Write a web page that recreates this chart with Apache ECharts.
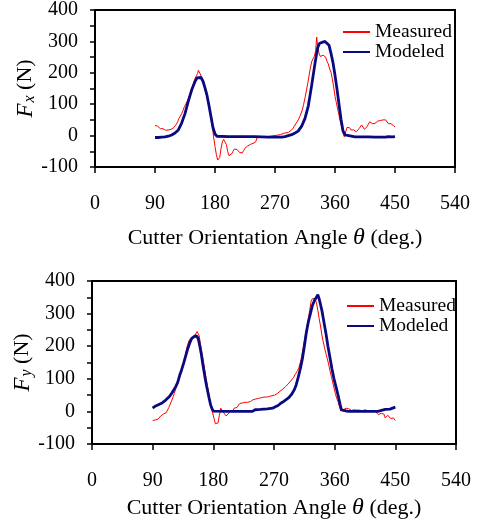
<!DOCTYPE html>
<html><head><meta charset="utf-8">
<script src="https://cdn.jsdelivr.net/npm/echarts@6/dist/echarts.min.js"></script>
<style>html,body{margin:0;padding:0;background:#fff}#c{width:482px;height:522px}</style>
</head><body><div id="c"></div>
<script>
// ---- data (angle in deg, force in N) ----
const xTickValues = [0, 90, 180, 270, 360, 450, 540];
const yTickValues = [-100, 0, 100, 200, 300, 400];
const seriesNames = ['Measured', 'Modeled'];

const fxMeasured = [[90,32],[92,28],[94,30],[96,26],[98,22],[100,20],[102,22],[104,18],[106,17],[108,20],[110,18],[112,22],[114,20],[116,24],[118,25],[120,30],[122,36],[124,44],[126,55],[128,62],[130,70],[132,80],[134,92],[136,100],[138,108],[140,118],[142,130],[144,145],[146,155],[148,168],[150,182],[152,190],[154,198],[155,208],[156,205],[158,196],[160,190],[162,172],[164,165],[166,140],[168,125],[170,105],[172,80],[174,55],[176,30],[178,-5],[180,-35],[182,-60],[184,-78],[185.5,-82],[187,-70],[189,-42],[191,-20],[193,-12],[195,-10],[197,-28],[199,-50],[201,-64],[203,-66],[205,-58],[207,-50],[209,-43],[211,-40],[213,-44],[215,-50],[217,-54],[219,-57],[221,-55],[223,-48],[225,-40],[227,-36],[229,-33],[231,-30],[233,-28],[235,-27],[237,-25],[239,-26],[241,-20],[243,-7],[245,-6],[248,-5],[251,-3],[254,-4],[257,-2],[260,-3],[263,0],[266,-1],[269,2],[272,1],[275,4],[278,3],[281,6],[284,8],[287,12],[290,10],[293,15],[296,20],[299,30],[302,40],[305,50],[308,65],[311,82],[313,100],[315,120],[317,142],[319,165],[321,190],[323,215],[325,235],[327,245],[329,252],[331,270],[332.5,314],[334,285],[336,262],[338,252],[340,248],[342,256],[344,262],[346,250],[348,236],[350,228],[352,212],[354,202],[356,180],[358,155],[360,125],[362,105],[364,85],[366,65],[368,45],[370,28],[372,10],[374,-4],[376,12],[378,26],[380,30],[382,25],[384,18],[386,16],[388,18],[390,14],[392,12],[394,15],[396,22],[398,28],[400,34],[402,30],[404,20],[406,18],[408,28],[410,36],[412,44],[414,40],[416,38],[418,42],[420,39],[422,44],[424,46],[426,42],[428,48],[430,46],[432,50],[434,54],[436,50],[438,44],[440,38],[442,35],[444,38],[446,34],[448,31],[450,28]];

const fxModeled = [[90,-6],[95,-6],[100,-5],[105,-4],[110,-2],[115,2],[120,8],[125,18],[130,40],[135,70],[140,110],[145,145],[150,172],[153,184],[156,189],[159,185],[162,173],[165,152],[168,128],[171,95],[174,60],[177,25],[180,5],[183,-2],[186,-3],[200,-3],[220,-3],[240,-3],[243,-5],[260,-5],[280,-5],[285,-3],[290,0],[295,3],[300,8],[305,15],[310,30],[315,55],[320,95],[325,160],[330,230],[334,280],[337,294],[340,299],[345,300],[348,298],[351,288],[354,262],[357,232],[360,192],[363,148],[366,100],[369,52],[372,15],[375,2],[378,-3],[390,-4],[400,-4],[410,-4],[420,-5],[430,-5],[436,-5],[440,-3],[443,-5],[446,-4],[448,-2],[450,-3]];

const fyMeasured = [[90,-28],[92,-22],[94,-26],[96,-20],[98,-24],[100,-20],[102,-14],[104,-10],[106,-8],[108,-9],[110,-4],[112,2],[114,12],[116,22],[118,32],[120,42],[122,55],[124,68],[126,80],[128,92],[130,107],[132,120],[134,138],[136,152],[138,165],[140,189],[142,205],[144,218],[146,222],[148,226],[150,232],[152,228],[154,238],[156,245],[157,248],[159,232],[161,205],[163,180],[165,158],[167,130],[169,105],[171,80],[173,58],[175,35],[177,12],[179,-5],[181,-22],[183,-38],[185,-44],[187,-35],[189,-12],[191,10],[193,5],[195,-3],[197,-8],[199,-14],[201,-15],[203,-5],[205,2],[207,5],[209,2],[211,10],[213,15],[215,12],[217,18],[219,24],[221,20],[223,26],[225,24],[227,28],[229,30],[231,28],[233,32],[235,30],[237,34],[239,36],[241,34],[243,38],[245,36],[247,40],[249,38],[251,42],[253,40],[255,44],[257,40],[259,44],[261,42],[263,46],[265,44],[267,48],[269,46],[271,50],[273,54],[275,55],[277,60],[279,62],[281,66],[283,68],[285,72],[287,76],[289,80],[291,84],[293,88],[295,94],[297,100],[299,104],[301,112],[303,118],[305,125],[307,135],[309,150],[311,168],[313,190],[315,215],[317,240],[319,262],[321,285],[323,310],[325,338],[327,346],[329,348],[331,345],[333,333],[335,310],[337,285],[339,262],[341,235],[343,214],[345,195],[347,178],[349,162],[351,145],[353,125],[355,108],[357,90],[359,72],[361,55],[363,40],[365,30],[367,15],[369,2],[371,-2],[373,5],[375,8],[377,10],[379,6],[381,8],[383,4],[385,3],[387,6],[389,5],[391,3],[393,4],[395,6],[397,4],[399,5],[401,2],[403,3],[405,5],[407,0],[409,2],[411,4],[413,1],[415,2],[417,3],[419,0],[421,-2],[423,-8],[425,-10],[427,-4],[429,-6],[431,-2],[433,-8],[435,-20],[437,-16],[439,-12],[441,-14],[443,-22],[445,-24],[447,-20],[449,-26],[450,-28]];

const fyModeled = [[90,10],[93,15],[96,18],[100,22],[104,26],[108,32],[112,40],[115,46],[118,55],[121,65],[124,75],[127,88],[130,110],[133,128],[136,148],[139,170],[142,192],[145,210],[148,224],[150,230],[153,232],[156,230],[158,220],[160,200],[162,178],[164,150],[166,125],[168,100],[170,78],[172,58],[174,38],[176,20],[178,8],[180,1],[182,0],[200,0],[220,0],[238,0],[242,5],[250,6],[260,8],[268,10],[272,14],[276,18],[280,25],[284,30],[288,36],[292,42],[296,52],[300,66],[303,82],[306,105],[309,130],[312,160],[315,200],[318,242],[321,275],[324,300],[327,325],[330,340],[333,350],[335,358],[337,345],[339,328],[341,310],[344,275],[347,240],[350,200],[353,165],[356,130],[359,100],[362,75],[365,50],[368,22],[370,5],[372,0],[380,0],[400,0],[420,0],[424,0],[426,5],[435,6],[442,7],[446,10],[450,13]];

// ---- chart ----
const FONT = "'Liberation Serif','Times New Roman',serif";
const RED = '#ff0000', BLUE = '#0a0a80';
const tickText = {fontFamily: FONT, fontSize: 20, color: '#000'};
const titleText = {fontFamily: FONT, fontSize: 22, color: '#000'};
const legendText = {fontFamily: FONT, fontSize: 19.5, color: '#000'};

function xAxisCfg(gridIndex, nameGap) {
  return {
    type: 'value', gridIndex, min: xTickValues[0], max: xTickValues[xTickValues.length-1], interval: 90,
    axisLine: {show: true, onZero: false, lineStyle: {color: '#000', width: 2}},
    axisTick: {show: true, inside: false, length: 6, lineStyle: {color: '#000', width: 1.5}},
    axisLabel: Object.assign({margin: 27}, tickText),
    splitLine: {show: false},
    name: 'Cutter Orientation Angle {it|θ} (deg.)',
    nameLocation: 'middle', nameGap, nameMoveOverlap: false,
    nameTextStyle: Object.assign({}, titleText, {rich: {it: {fontFamily: FONT, fontSize: 24, fontStyle: 'italic', color: '#000'}}})
  };
}
function yAxisCfg(gridIndex, sub) {
  return {
    type: 'value', gridIndex, min: yTickValues[0], max: yTickValues[yTickValues.length-1], interval: 100,
    axisLine: {show: true, onZero: false, lineStyle: {color: '#000', width: 2}},
    axisTick: {show: true, inside: false, length: 5, lineStyle: {color: '#000', width: 1.5}},
    minorTick: {show: true, splitNumber: 2, length: 5, lineStyle: {color: '#000', width: 1.5}},
    axisLabel: Object.assign({margin: 17}, tickText),
    splitLine: {show: false},
    name: '{it|F}{sub|' + sub + '}{n| (N)}',
    nameLocation: 'middle', nameGap: 57, nameRotate: 90, nameMoveOverlap: false,
    nameTextStyle: Object.assign({}, titleText, {rich: {
      it: {fontFamily: FONT, fontSize: 23, fontStyle: 'italic', color: '#000'},
      sub: {fontFamily: FONT, fontSize: 16, fontStyle: 'italic', color: '#000', padding: [9, 0, 0, 1]},
      n: {fontFamily: FONT, fontSize: 22, color: '#000'}
    }})
  };
}
function legendCfg(left, top) {
  return {
    orient: 'vertical', left, top, data: seriesNames, itemWidth: 27, itemHeight: 12, itemGap: 0,
    itemStyle: {color: 'rgba(0,0,0,0)', borderWidth: 0, opacity: 0},
    textStyle: Object.assign({lineHeight: 19.5}, legendText), selectedMode: false
  };
}
function lineSeries(name, idx, data, color, width) {
  return {name, type: 'line', xAxisIndex: idx, yAxisIndex: idx, data, symbol: 'none', showSymbol: false,
    lineStyle: {color, width}, itemStyle: {color}, silent: true};
}

const chart = echarts.init(document.getElementById('c'), null, {renderer: 'canvas'});
chart.setOption({
  animation: false,
  backgroundColor: '#fff',
  grid: [
    {left: 95, top: 9, width: 360, height: 158, show: true, borderColor: '#000', borderWidth: 2, backgroundColor: 'transparent'},
    {left: 92, top: 281, width: 364, height: 163, show: true, borderColor: '#000', borderWidth: 2, backgroundColor: 'transparent'}
  ],
  xAxis: [xAxisCfg(0, 59), xAxisCfg(1, 52)],
  yAxis: [yAxisCfg(0, 'x'), yAxisCfg(1, 'y')],
  legend: [legendCfg(337, 17), legendCfg(341, 291)],
  series: [
    lineSeries(seriesNames[0], 0, fxMeasured, RED, 1),
    lineSeries(seriesNames[1], 0, fxModeled, BLUE, 2.8),
    lineSeries(seriesNames[0], 1, fyMeasured, RED, 1),
    lineSeries(seriesNames[1], 1, fyModeled, BLUE, 2.8)
  ]
});
</script></body></html>
